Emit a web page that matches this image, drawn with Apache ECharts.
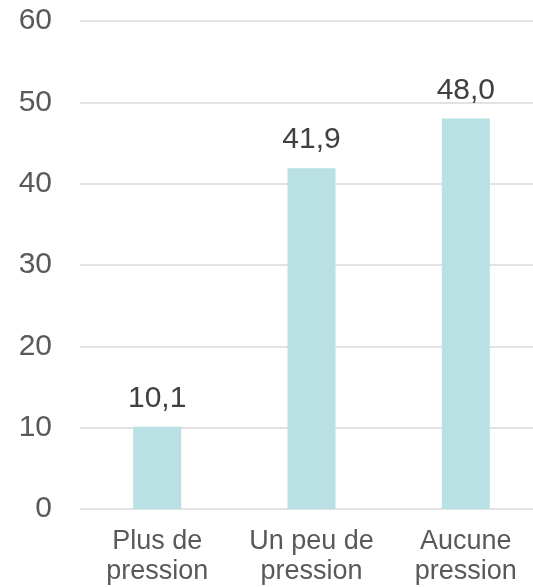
<!DOCTYPE html>
<html>
<head>
    <meta charset="utf-8">
    <script src="https://cdn.jsdelivr.net/npm/echarts@6/dist/echarts.min.js"></script>
    <style>
        html, body { margin: 0; padding: 0; background: #fff; overflow: hidden; }
    </style>
</head>
<body>
    <div id="main" style="width: 533px;height:587px;"></div>
    <script type="text/javascript">
        var categories = ['Plus de\npression', 'Un peu de\npression', 'Aucune\npression'];
        var values = [10.1, 41.9, 48.0];
        var yTicks = [0, 10, 20, 30, 40, 50, 60];

        var myChart = echarts.init(document.getElementById('main'));
        var option = {
            animation: false,
            textStyle: { fontFamily: 'Liberation Sans, Arial, sans-serif' },
            // plot area runs a little past the right edge, like the original
            grid: { left: 80, width: 463, top: 21, bottom: 78, containLabel: false, outerBoundsMode: 'none' },
            xAxis: {
                type: 'category',
                data: categories,
                axisLine: { show: false },
                axisTick: { show: false },
                axisLabel: {
                    color: '#595959',
                    fontSize: 27,
                    lineHeight: 30,
                    margin: 18,
                    interval: 0
                }
            },
            yAxis: {
                type: 'value',
                min: yTicks[0],
                max: yTicks[yTicks.length - 1],
                interval: 10,
                axisLine: { show: false },
                axisTick: { show: false },
                axisLabel: { color: '#595959', fontSize: 30, margin: 28 },
                splitLine: { lineStyle: { color: '#d9d9d9', width: 1.5 } }
            },
            series: [{
                type: 'bar',
                data: values,
                barWidth: 48,
                itemStyle: { color: '#b9e0e3' },
                label: {
                    show: true,
                    position: 'top',
                    distance: 13,
                    color: '#404040',
                    fontSize: 30,
                    formatter: function (p) { return p.value.toFixed(1).replace('.', ','); }
                }
            }]
        };
        myChart.setOption(option);
    </script>
</body>
</html>
